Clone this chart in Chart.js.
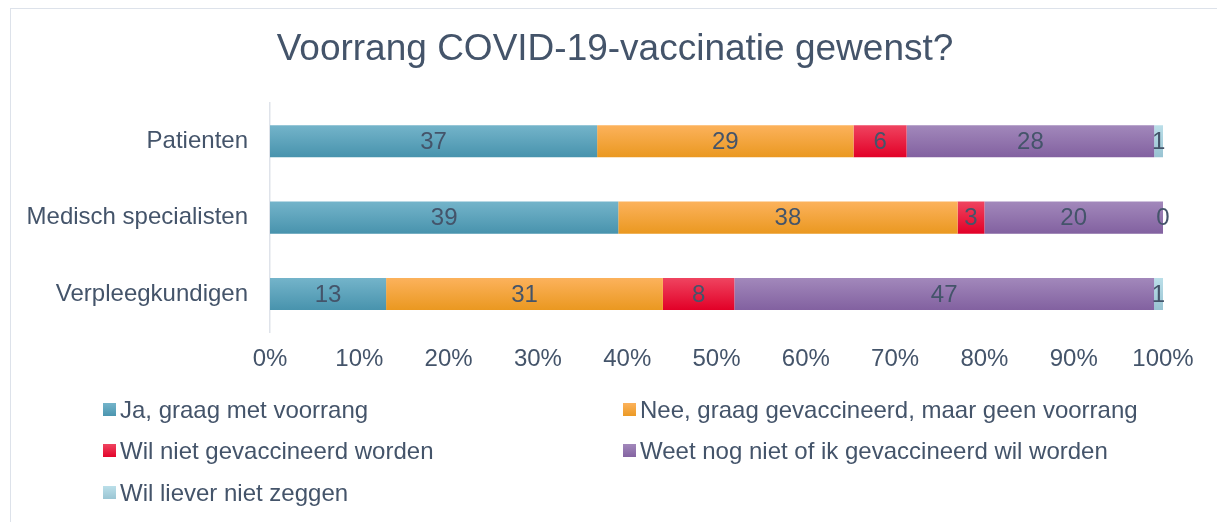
<!DOCTYPE html>
<html>
<head>
<meta charset="utf-8">
<script src="https://cdn.jsdelivr.net/npm/chart.js@4"></script>
<style>
  body { margin: 0; background: #fff; overflow: hidden; }
  #frame { position: absolute; left: 10px; top: 8px; width: 1230px; height: 540px; border: 1.5px solid #dde2ea; }
  canvas { position: absolute; left: 0; top: 0; }
</style>
</head>
<body>
<div id="frame"></div>
<canvas id="myChart" width="1217" height="522"></canvas>
<script>
const title = "Voorrang COVID-19-vaccinatie gewenst?";
const groups = ["Patienten", "Medisch specialisten", "Verpleegkundigen"];
const answers = [
  "Ja, graag met voorrang",
  "Nee, graag gevaccineerd, maar geen voorrang",
  "Wil niet gevaccineerd worden",
  "Weet nog niet of ik gevaccineerd wil worden",
  "Wil liever niet zeggen"
];
const jaVoorrang = [37, 39, 13];
const neeVoorrang = [29, 38, 31];
const wilNiet = [6, 3, 8];
const weetNiet = [28, 20, 47];
const nietZeggen = [1, 0, 1];
const xTicks = [0, 10, 20, 30, 40, 50, 60, 70, 80, 90, 100];

// top / bottom of the gradient for each series
const shades = [
  ["#74b4ca", "#4893ad"],
  ["#fcb25c", "#ea9820"],
  ["#ef4460", "#e20027"],
  ["#a288bb", "#8261a0"],
  ["#bbdfe9", "#98c3d2"]
];
const textColor = "#44546a";
const font = "'Liberation Sans', Arial, sans-serif";

const series = [jaVoorrang, neeVoorrang, wilNiet, weetNiet, nietZeggen];
const totals = groups.map((g, i) => series.reduce((s, arr) => s + arr[i], 0));

function gradientFor(k) {
  return function (ctx) {
    const chart = ctx.chart;
    const y = chart.scales.y;
    if (!y || ctx.dataIndex === undefined) return shades[k][1];
    const mid = y.getPixelForValue(ctx.dataIndex);
    const half = (y.height / groups.length) * 0.42 / 2;
    if (!isFinite(mid) || !isFinite(half) || half <= 0) return shades[k][1];
    const g = chart.ctx.createLinearGradient(0, mid - half, 0, mid + half);
    g.addColorStop(0, shades[k][0]);
    g.addColorStop(1, shades[k][1]);
    return g;
  };
}

const datasets = series.map((arr, k) => ({
  label: answers[k],
  raw: arr,
  data: arr.map((v, i) => v / totals[i] * 100),
  backgroundColor: gradientFor(k),
  borderWidth: 0,
  barPercentage: 1,
  categoryPercentage: 0.42
}));

const valueLabels = {
  id: "valueLabels",
  afterDatasetsDraw(chart) {
    const c = chart.ctx;
    c.save();
    c.font = "24px " + font;
    c.fillStyle = textColor;
    c.textAlign = "center";
    c.textBaseline = "middle";
    chart.data.datasets.forEach((ds, k) => {
      chart.getDatasetMeta(k).data.forEach((bar, i) => {
        c.fillText(String(ds.raw[i]), (bar.x + bar.base) / 2, bar.y + 1);
      });
    });
    c.restore();
  }
};

// title sits centred on the whole frame, not on the plot
const topTitle = {
  id: "topTitle",
  afterDraw(chart) {
    const c = chart.ctx;
    c.save();
    c.font = "37px " + font;
    c.fillStyle = textColor;
    c.textAlign = "center";
    c.textBaseline = "middle";
    c.fillText(title, 615, 50);
    c.restore();
  }
};

const gridLegend = {
  id: "gridLegend",
  afterDraw(chart) {
    const c = chart.ctx;
    const cols = [103, 623];
    const rows = [410, 451, 493];
    c.save();
    c.font = "24px " + font;
    c.textBaseline = "middle";
    c.textAlign = "left";
    answers.forEach((a, k) => {
      const x = cols[k % 2];
      const y = rows[Math.floor(k / 2)];
      const g = c.createLinearGradient(0, y - 7, 0, y + 7);
      g.addColorStop(0, shades[k][0]);
      g.addColorStop(1, shades[k][1]);
      c.fillStyle = g;
      c.fillRect(x, y - 7, 13, 13);
      c.fillStyle = textColor;
      c.fillText(a, x + 17, y + 1);
    });
    c.restore();
  }
};

new Chart("myChart", {
  type: "bar",
  data: { labels: groups, datasets: datasets },
  options: {
    indexAxis: "y",
    responsive: false,
    animation: false,
    layout: { padding: { left: 0, right: 54, top: 103, bottom: 143 } },
    scales: {
      x: {
        stacked: true,
        min: 0,
        max: 100,
        afterBuildTicks: (s) => { s.ticks = xTicks.map(v => ({ value: v })); },
        grid: { display: false },
        border: { display: false },
        ticks: {
          padding: 5,
          color: textColor,
          font: { family: font, size: 24 },
          maxRotation: 0,
          callback: (v) => v + "%"
        }
      },
      y: {
        stacked: true,
        afterFit: (s) => { s.width = 270; },
        grid: { display: false },
        border: { display: true, color: "#dfe3ea", width: 1.5 },
        ticks: {
          padding: 14,
          color: textColor,
          font: { family: font, size: 24 }
        }
      }
    },
    plugins: {
      legend: { display: false },
      tooltip: { enabled: false },
      title: { display: false }
    }
  },
  plugins: [valueLabels, topTitle, gridLegend]
});
</script>
</body>
</html>
